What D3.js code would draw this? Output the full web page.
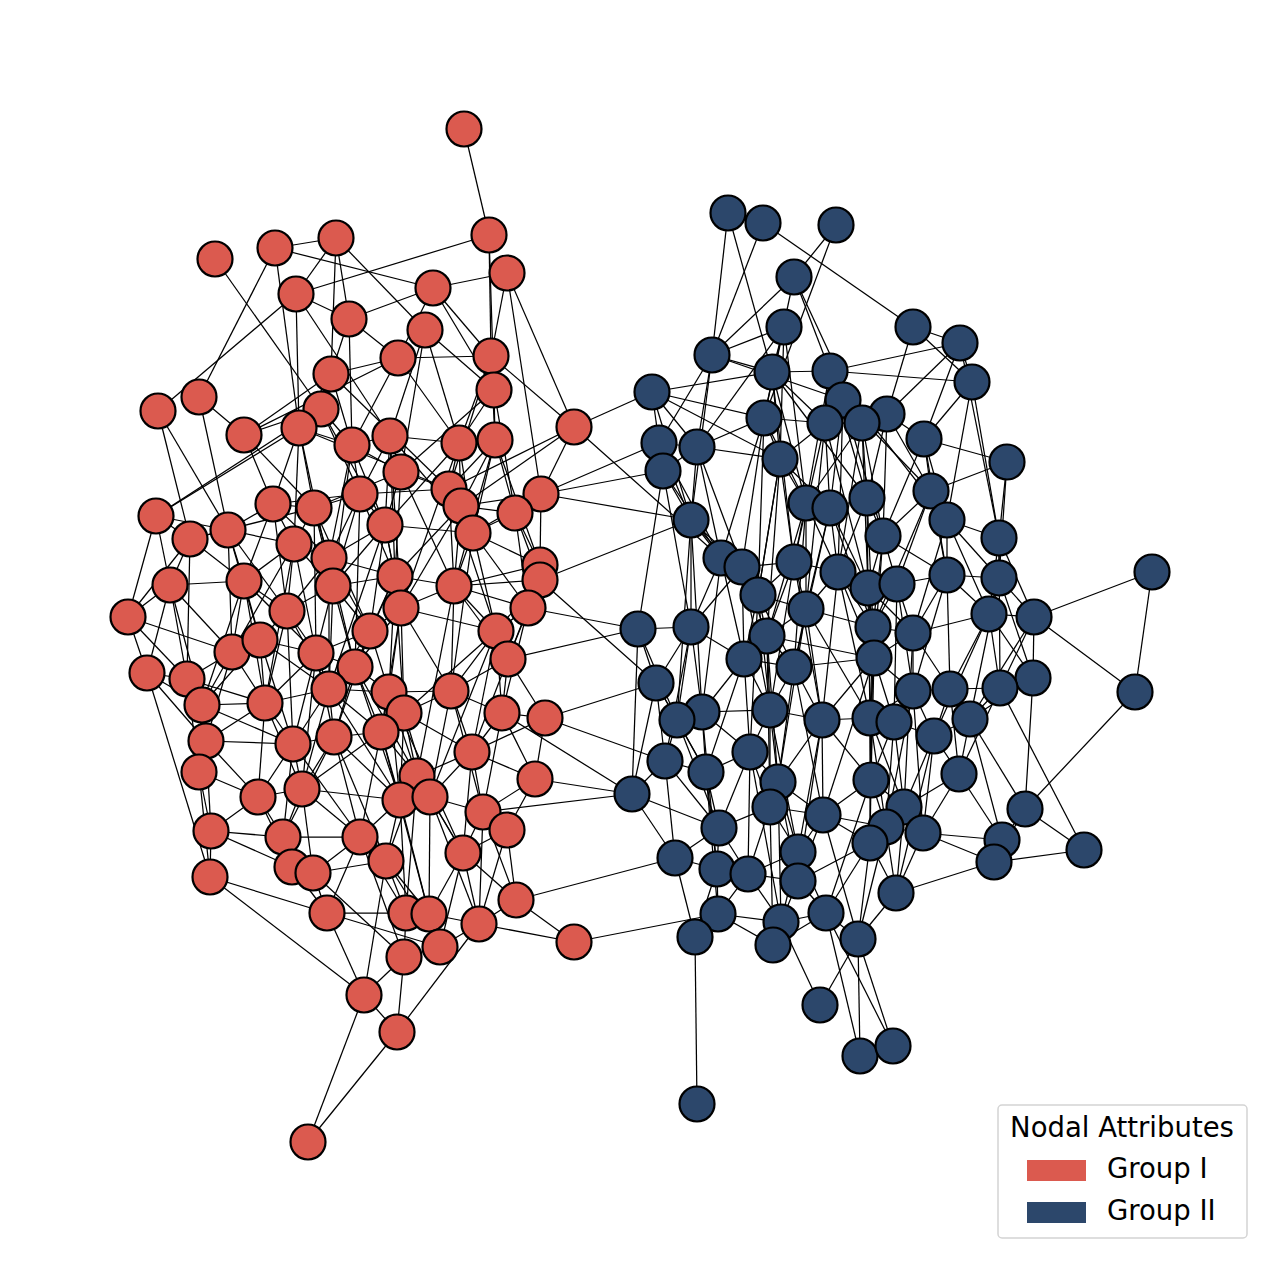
<!DOCTYPE html>
<html>
<head>
<meta charset="utf-8">
<script src="https://cdn.jsdelivr.net/npm/d3@7"></script>
<style>
  body { margin: 0; background: #fff; }
  svg { display: block; }
</style>
</head>
<body>
<svg id="network"></svg>
<script>
// Layout positions of the nodes (layout units)
const groupOneNodes = [
  [464,129],[489,235],[507,273],[215,259],[275,248],[336,238],[296,294],[433,288],[349,319],[425,330],
  [398,358],[491,356],[331,374],[494,390],[199,397],[158,411],[321,409],[244,435],[299,428],[352,445],
  [390,436],[459,443],[495,440],[574,427],[401,472],[449,489],[541,494],[360,494],[273,504],[314,508],
  [461,506],[515,513],[156,516],[228,530],[190,539],[385,525],[473,533],[294,544],[329,558],[540,565],
  [540,580],[170,585],[244,581],[333,586],[395,576],[454,586],[128,617],[287,611],[401,608],[528,608],
  [370,631],[496,631],[232,652],[260,640],[316,653],[147,673],[355,667],[508,659],[187,679],[202,705],
  [265,703],[329,689],[389,692],[451,691],[404,713],[502,713],[545,718],[206,741],[293,744],[334,737],
  [381,732],[472,752],[199,772],[417,776],[535,779],[258,797],[302,789],[400,800],[430,797],[483,812],
  [211,831],[283,837],[360,837],[507,830],[386,861],[463,853],[292,867],[313,873],[210,877],[327,913],
  [406,913],[429,914],[516,900],[479,924],[574,942],[440,947],[404,957],[364,995],[397,1032],[308,1142]
];

const groupTwoNodes = [
  [728,213],[763,223],[836,225],[794,277],[784,327],[913,327],[960,343],[712,355],[772,372],[830,371],
  [972,382],[652,392],[843,400],[887,414],[764,418],[825,423],[862,423],[659,443],[697,447],[924,439],
  [663,471],[780,459],[1007,462],[931,491],[867,498],[806,503],[830,508],[691,520],[947,520],[999,538],
  [883,536],[721,558],[742,567],[794,562],[838,572],[947,575],[999,578],[1152,572],[758,595],[868,588],
  [897,584],[806,609],[989,614],[1034,617],[638,629],[691,627],[767,636],[873,627],[913,633],[744,659],
  [794,667],[874,658],[1033,678],[656,683],[913,691],[950,689],[1000,688],[1135,692],[702,712],[677,720],
  [770,710],[822,720],[870,718],[894,722],[970,719],[934,736],[665,761],[706,772],[750,752],[778,782],
  [871,780],[959,774],[632,794],[770,807],[823,815],[904,807],[1025,809],[719,828],[886,827],[923,833],
  [870,843],[1002,840],[1084,850],[994,862],[675,858],[798,852],[717,869],[748,874],[798,881],[896,893],
  [718,914],[781,922],[826,913],[773,945],[695,937],[858,939],[820,1005],[860,1056],[893,1046],[697,1104]
];

// Ties inside Group I (node numbers, 1-based)
const groupOneEdges = [
  [1,2],[2,7],[2,12],[2,14],[3,8],[3,12],[3,24],[3,27],[4,17],[5,6],[5,8],[5,15],[5,19],[6,7],[6,13],
  [6,10],[7,16],[7,19],[7,9],[7,21],[8,9],[8,12],[8,14],[9,11],[9,13],[10,22],[10,25],[10,14],[11,12],
  [11,13],[11,22],[11,18],[12,24],[12,23],[16,34],[16,35],[15,34],[15,18],[18,17],[18,29],[18,30],
  [18,13],[17,33],[24,26],[24,31],[24,27],[14,25],[14,32],[13,20],[21,22],[22,23],[20,21],[17,20],
  [33,35],[33,42],[33,47],[33,19],[33,34],
  [19,20],[19,29],[19,30],[19,38],[19,26],[20,28],[20,36],[20,25],[20,44],[21,25],[21,28],[21,37],
  [21,45],[22,26],[22,31],[22,36],[22,49],[23,26],[23,31],[23,37],[23,40],[23,46],[25,26],[25,36],
  [25,30],[25,46],[26,31],[26,28],[26,37],[26,52],[27,32],[27,31],[27,40],[27,37],[28,30],[28,36],
  [28,39],[28,29],[28,45],[29,30],[29,34],[29,38],[29,43],[29,48],[30,38],[30,39],[30,44],[30,35],
  [31,32],[31,37],[31,45],[31,46],[32,37],[32,40],[32,41],[32,50],[34,35],[34,43],[34,38],[34,48],
  [34,53],[35,42],[35,43],[35,47],[35,59],[36,39],[36,45],[36,44],[36,49],[36,37],[37,46],[37,40],
  [37,50],[37,52],[38,39],[38,43],[38,44],[38,48],[38,55],[39,44],[39,45],[39,48],[39,51],[39,62],
  [40,41],[40,46],[40,50],[41,50],[41,52],[41,46],[41,58],[42,47],[42,43],[42,53],[42,56],[42,59],
  [43,48],[43,53],[43,54],[43,60],[44,45],[44,48],[44,51],[44,55],[44,57],[45,49],[45,46],[45,51],
  [45,63],[46,49],[46,52],[46,64],[46,50],[47,56],[47,59],[47,53],[48,54],[48,55],[48,61],[48,62],
  [49,51],[49,52],[49,57],[49,63],[49,64],[50,52],[50,58],[50,66],[51,57],[51,62],[51,63],[51,55],
  [52,58],[52,64],[52,66],[52,72],[53,54],[53,59],[53,60],[53,61],[54,55],[54,61],[54,60],[54,62],
  [55,57],[55,62],[55,61],[55,69],[55,70],[56,59],[56,60],[56,68],[56,89],[57,62],[57,63],[57,70],
  [57,71],[58,64],[58,66],[58,67],[58,72],[59,60],[59,68],[59,61],[59,73],[60,61],[60,68],[60,69],
  [60,73],[61,62],[61,69],[61,68],[61,76],[62,63],[62,70],[62,69],[62,71],[63,64],[63,65],[63,71],
  [63,74],[64,65],[64,66],[64,72],[64,79],[65,71],[65,72],[65,74],[65,78],[66,67],[66,72],[66,75],
  [66,80],[67,75],[67,72],[68,69],[68,73],[68,76],[68,81],[69,70],[69,76],[69,77],[69,82],[70,71],
  [70,77],[70,78],[70,83],[71,74],[71,78],[71,77],[72,74],[72,79],[72,80],[72,75],[73,76],[73,81],
  [73,89],[74,78],[74,79],[74,85],[74,86],[75,80],[75,84],[76,77],[76,81],[76,82],[76,87],[77,82],
  [77,83],[77,88],[77,78],[78,79],[78,83],[78,85],[78,91],[79,80],[79,86],[79,92],[80,84],[80,86],
  [80,94],[81,82],[81,89],[81,87],[82,87],[82,88],[82,83],[83,85],[83,88],[83,90],[83,91],[84,86],
  [84,93],[84,94],[85,91],[85,92],[85,88],[86,92],[86,94],[86,96],[87,88],[87,90],[88,90],[88,97],
  [89,90],[89,98],[90,91],[90,96],[90,98],[91,92],[91,97],[92,94],[92,96],[93,94],[93,95],[93,80],
  [94,95],[94,96],[94,99],[96,97],[97,98],[97,99],[98,99],[98,100],[99,100],[98,85],
  [13,26],[17,36],[19,44],[21,49],[28,57],[30,51],[36,62],[38,61],[45,65],[46,74],[49,71],[52,79],
  [57,78],[62,78],[63,86],[70,85],[71,92],[14,22],[12,22],[6,9],
  [20,39],[21,36],[25,45],[26,46],[28,44],[29,39],[30,55],[31,49],[36,51],[37,64],[38,53],[39,57],
  [43,61],[44,62],[45,57],[46,58],[48,69],[49,65],[51,70],[52,65],[55,77],[57,74],[62,77],[63,78],
  [64,80],[65,79],[69,83],[70,82],[71,83],[72,86],[74,91],[78,92],[79,94],[83,97],[85,96],[86,93],
  [61,77],[53,68],[54,69],[43,55],[34,54],[42,60],[12,26],[14,23],[22,37],[23,32],[11,20],[13,19],
  [17,28],[9,20],[10,21],[8,11]
];

// Ties inside Group II (node numbers, 1-based)
const groupTwoEdges = [
  [1,8],[1,9],[2,8],[2,6],[3,4],[3,15],[4,8],[4,10],[4,17],[4,15],[5,9],[5,19],[5,22],[5,15],[5,8],
  [6,11],[6,14],[6,7],[7,14],[7,20],[7,11],[7,30],[8,9],[8,19],[8,18],[8,13],[9,10],[9,12],[9,16],
  [9,22],[9,26],[10,7],[10,13],[10,16],[10,11],[10,25],[11,30],[11,20],[11,29],[12,15],[12,19],
  [12,22],[12,18],[13,14],[13,16],[13,17],[13,27],[13,31],[14,17],[14,20],[14,24],[14,25],[15,16],
  [15,22],[15,19],[15,26],[15,32],[16,17],[16,22],[16,27],[16,34],[17,25],[17,26],[17,31],[17,35],
  [18,19],[18,21],[18,28],[18,32],[19,21],[19,22],[19,28],[19,33],[20,23],[20,24],[20,29],[20,31],
  [21,28],[21,45],[21,32],[22,26],[22,27],[22,34],[22,39],[23,24],[23,37],[23,30],[24,29],[24,31],
  [24,36],[24,41],[25,27],[25,31],[25,35],[25,40],[26,27],[26,34],[26,35],[26,42],[27,35],[27,40],
  [27,42],[28,32],[28,33],[28,46],[28,39],[29,30],[29,36],[29,37],[29,43],[30,37],[30,43],[30,44],
  [31,40],[31,41],[31,48],[31,36],[32,33],[32,39],[32,46],[32,50],[33,34],[33,39],[33,47],[33,46],
  [34,35],[34,39],[34,42],[34,47],[35,40],[35,42],[35,48],[35,52],[36,37],[36,41],[36,43],[36,49],
  [36,56],[37,43],[37,44],[37,53],[38,44],[38,58],[39,42],[39,47],[39,50],[39,61],[40,41],[40,48],
  [40,52],[40,49],[41,48],[41,49],[41,55],[42,47],[42,48],[42,51],[42,62],[43,44],[43,49],[43,53],
  [43,57],[43,56],[44,53],[44,57],[44,58],[45,46],[45,54],[45,73],[46,50],[46,54],[46,59],[46,60],
  [47,50],[47,51],[47,61],[47,52],[48,49],[48,52],[48,63],[49,55],[49,56],[49,52],[50,51],[50,59],
  [50,61],[50,69],[51,61],[51,62],[51,52],[51,70],[52,63],[52,64],[52,55],[52,62],[53,57],[53,65],
  [53,77],[54,60],[54,67],[54,73],[55,56],[55,64],[55,66],[55,63],[56,57],[56,65],[56,66],[56,72],
  [57,65],[57,72],[57,83],[58,77],[59,60],[59,61],[59,68],[59,69],[60,67],[60,68],[60,78],[61,62],
  [61,69],[61,70],[62,63],[62,70],[62,71],[62,75],[63,64],[63,71],[63,76],[64,66],[64,71],[64,76],
  [64,79],[65,66],[65,72],[65,77],[65,82],[66,72],[66,76],[66,80],[67,68],[67,73],[67,78],[67,85],
  [68,69],[68,78],[68,87],[69,70],[69,74],[69,78],[70,74],[70,75],[70,86],[71,75],[71,79],[71,81],
  [71,76],[72,76],[72,80],[72,82],[73,85],[73,78],[74,75],[74,86],[74,88],[74,78],[75,79],[75,81],
  [75,86],[75,89],[76,79],[76,80],[76,90],[77,82],[77,84],[77,83],[78,85],[78,87],[78,88],[79,80],
  [79,81],[79,90],[80,82],[80,84],[80,90],[81,89],[81,90],[81,93],[81,96],[82,84],[83,84],[84,90],
  [85,87],[85,95],[86,88],[86,89],[86,92],[86,93],[87,88],[87,91],[87,95],[88,89],[88,91],[88,92],
  [89,92],[89,93],[90,96],[91,95],[91,92],[91,94],[92,94],[92,93],[93,96],[93,94],[95,100],[97,92],
  [97,96],[98,96],[98,93],[99,96],[99,93],
  [5,26],[12,28],[9,25],[10,29],[13,24],[15,39],[16,40],[19,32],[22,47],[26,51],[27,48],[28,59],
  [33,61],[34,62],[35,63],[39,69],[42,70],[47,74],[51,75],[52,71],[55,79],[61,86],[62,89],[63,81],
  [69,88],[70,89],
  [8,28],[9,34],[15,33],[10,26],[13,35],[16,42],[22,39],[26,47],[27,51],[34,61],[35,62],[40,63],
  [41,64],[48,71],[49,76],[52,75],[55,80],[61,74],[62,86],[63,79],[66,90],[71,93],[75,96],[79,96],
  [47,70],[50,68],[59,87],[68,91],[69,92],[70,92],[74,94],[32,59],[33,50],[39,51],[42,63],[43,66],
  [36,55],[29,49],[30,57],[37,65],[44,65],[24,48],[20,36],[14,31],[17,40],[25,48],[31,52],[21,46],
  [28,60],[46,67],[54,68],[45,60]
];

// Ties between the groups: [Group I node, Group II node]
const crossEdges = [
  [24,12],[24,32],[27,21],[27,18],[27,28],[41,28],[41,54],[50,45],[58,45],[67,54],[67,67],[66,73],
  [75,73],[80,73],[93,85],[95,91]
];

const groupNames = ["Group I", "Group II"];
const groupColors = ["#db5a4f", "#2c476b"];
const legendTitle = "Nodal Attributes";

const width = 1280, height = 1272;
const nodeRadius = 17.5;

const svg = d3.select('#network')
  .attr('width', width)
  .attr('height', height);

const x = d3.scaleLinear().domain([0, 1280]).range([0, width]);
const y = d3.scaleLinear().domain([0, 1272]).range([0, height]);

const nodes = [
  ...groupOneNodes.map((p, i) => ({ id: 'a' + (i + 1), x: p[0], y: p[1], group: 0 })),
  ...groupTwoNodes.map((p, i) => ({ id: 'b' + (i + 1), x: p[0], y: p[1], group: 1 }))
];
const byId = new Map(nodes.map(n => [n.id, n]));

const links = [
  ...groupOneEdges.map(e => ({ s: 'a' + e[0], t: 'a' + e[1] })),
  ...groupTwoEdges.map(e => ({ s: 'b' + e[0], t: 'b' + e[1] })),
  ...crossEdges.map(e => ({ s: 'a' + e[0], t: 'b' + e[1] }))
];

const color = d3.scaleOrdinal().domain([0, 1]).range(groupColors);

// Draw edges
svg.append('g')
  .selectAll('line')
  .data(links)
  .enter()
  .append('line')
  .attr('x1', d => x(byId.get(d.s).x))
  .attr('y1', d => y(byId.get(d.s).y))
  .attr('x2', d => x(byId.get(d.t).x))
  .attr('y2', d => y(byId.get(d.t).y))
  .attr('stroke', '#000')
  .attr('stroke-width', 1.25);

// Draw nodes
svg.append('g')
  .selectAll('circle')
  .data(nodes)
  .enter()
  .append('circle')
  .attr('cx', d => x(d.x))
  .attr('cy', d => y(d.y))
  .attr('r', nodeRadius)
  .attr('fill', d => color(d.group))
  .attr('stroke', '#000')
  .attr('stroke-width', 2.2);

// Legend
const legend = svg.append('g').attr('transform', 'translate(998,1105)');

legend.append('rect')
  .attr('width', 249)
  .attr('height', 133)
  .attr('rx', 4)
  .attr('fill', '#fff')
  .attr('stroke', '#d4d4d4')
  .attr('stroke-width', 1.5);

legend.append('text')
  .attr('x', 124)
  .attr('y', 32)
  .attr('text-anchor', 'middle')
  .style('font-family', 'DejaVu Sans')
  .style('font-size', '27.5px')
  .text(legendTitle);

const entry = legend.selectAll('.entry')
  .data(groupNames)
  .enter()
  .append('g')
  .attr('class', 'entry')
  .attr('transform', (d, i) => `translate(0,${55 + i * 42})`);

entry.append('rect')
  .attr('x', 29)
  .attr('y', 0)
  .attr('width', 59)
  .attr('height', 21)
  .attr('fill', (d, i) => groupColors[i]);

entry.append('text')
  .attr('x', 109)
  .attr('y', 18)
  .style('font-family', 'DejaVu Sans')
  .style('font-size', '27.5px')
  .text(d => d);
</script>
</body>
</html>
